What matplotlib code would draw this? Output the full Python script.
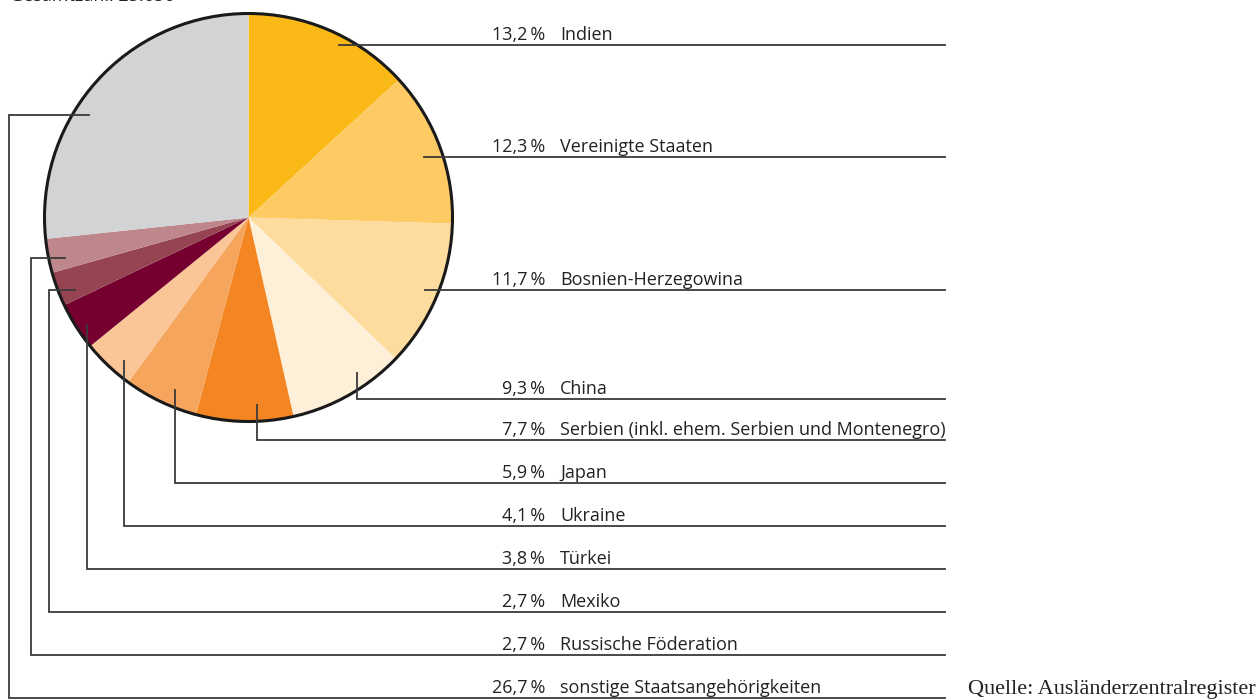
import matplotlib.pyplot as plt
import numpy as np
from matplotlib.patches import Circle

countries = [
    "Indien",
    "Vereinigte Staaten",
    "Bosnien-Herzegowina",
    "China",
    "Serbien (inkl. ehem. Serbien und Montenegro)",
    "Japan",
    "Ukraine",
    "Türkei",
    "Mexiko",
    "Russische Föderation",
    "sonstige Staatsangehörigkeiten",
]
shares = [13.2, 12.3, 11.7, 9.3, 7.7, 5.9, 4.1, 3.8, 2.7, 2.7, 26.7]
colors = [
    "#FBB918", "#FDCA64", "#FDDC9E", "#FEF0D8", "#F38623", "#F5A65C",
    "#FAC698", "#75002F", "#964452", "#BE878C", "#D2D3D5",
]
pct_labels = ["13,2\u2009%", "12,3\u2009%", "11,7\u2009%", "9,3\u2009%", "7,7\u2009%",
              "5,9\u2009%", "4,1\u2009%", "3,8\u2009%", "2,7\u2009%", "2,7\u2009%",
              "26,7\u2009%"]

W, H = 1258, 700
FONT = ["Open Sans", "DejaVu Sans"]
LINE_C = "#3a3a3a"
TXT_C = "#222222"

# where the leader line starts inside each wedge (fraction of wedge angle, fraction of radius)
anchor_frac = [0.58, 0.53, 0.49, 0.33, 0.36, 0.37, 0.31, 0.39, 0.25, 0.32, 0.40]
anchor_rad = [0.955, 0.91, 0.935, 0.93, 0.92, 0.92, 0.93, 0.95, 0.92, 0.92, 0.93]


def Y(p):
    # pixel row from top -> data y
    return H - p


fig = plt.figure(figsize=(W / 100, H / 100), dpi=100)
ax = fig.add_axes([0, 0, 1, 1])

cx, cy, R = 248.5, Y(217.5), 204
ax.pie(shares, colors=colors, startangle=90, counterclock=False,
       center=(cx, cy), radius=R, frame=True,
       wedgeprops=dict(linewidth=0))
ax.add_patch(Circle((cx, cy), R, fill=False, edgecolor="#1a1a1a", lw=2.2, zorder=5))

cum = np.cumsum([0] + shares[:-1])
ang = (cum + np.array(shares) * np.array(anchor_frac)) / 100 * 360  # clockwise from top
ax_pts = cx + np.array(anchor_rad) * R * np.sin(np.radians(ang))
ay_pts = cy + np.array(anchor_rad) * R * np.cos(np.radians(ang))

x_end = 945
row_y = [None, None, None, 399, 440, 483, 526, 569, 612, 655, 698]
left_x = {8: 49, 9: 31, 10: 9}

for i, name in enumerate(countries):
    x0, y0 = ax_pts[i], ay_pts[i]
    if row_y[i] is None:
        ly = y0
        xs, ys = [x0, x_end], [ly, ly]
    else:
        ly = Y(row_y[i])
        if i in left_x:
            lx = left_x[i]
            xs, ys = [x0, lx, lx, x_end], [y0, y0, ly, ly]
        else:
            xs, ys = [x0, x0, x_end], [y0, ly, ly]
    ax.plot(xs, ys, color=LINE_C, lw=1.3, solid_joinstyle="miter", zorder=6)
    ax.text(545, ly + 5, pct_labels[i], ha="right", va="baseline",
            fontsize=13.0, family=FONT, color=TXT_C)
    ax.text(560, ly + 5, name, ha="left", va="baseline",
            fontsize=13.0, family=FONT, color=TXT_C)

ax.text(968, Y(694), "Quelle: Ausländerzentralregister", ha="left", va="baseline",
        fontsize=16, family="Liberation Serif", color=TXT_C)
# heading sits mostly above the picture's top edge, as in the source
ax.text(10, Y(1), "Gesamtzahl: 25.656", ha="left", va="baseline",
        fontsize=13, family=FONT, color=TXT_C)

ax.set_xlim(0, W)
ax.set_ylim(0, H)
ax.set_aspect("auto")
ax.axis("off")

fig.savefig("out.png", dpi=100)
